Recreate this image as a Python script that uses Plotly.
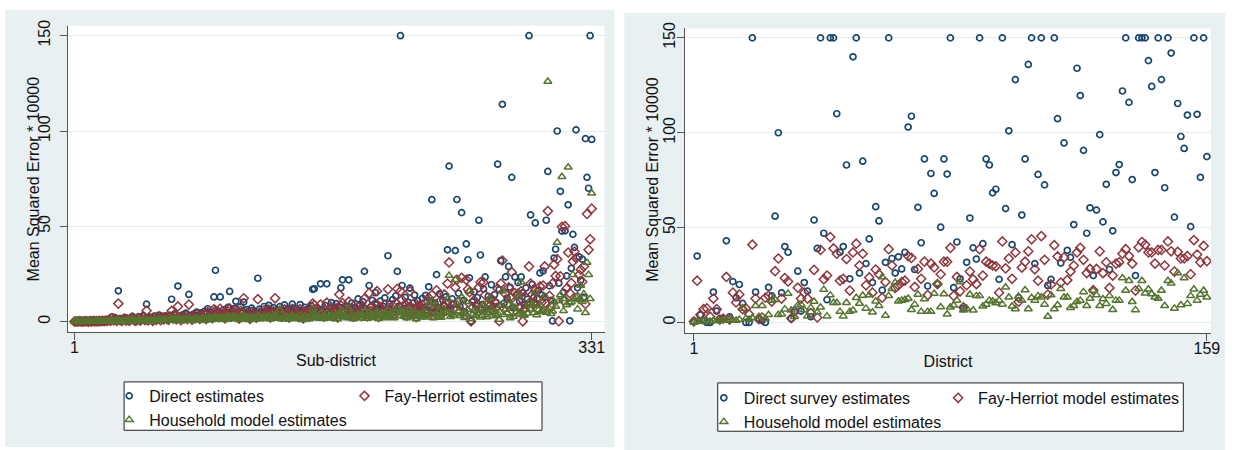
import plotly.graph_objects as go

# ---------------- data ----------------
sub_district = list(range(1, 332))
district = list(range(1, 160))

direct_sub = [
    0.2,0.1,0.3,0.2,0.1,0.3,0.2,0.4,0.2,0.3,0.5,0.3,0.2,0.4,0.6,0.3,0.5,0.4,0.7,0.5,
    0.8,0.6,1.2,0.9,2.5,1.1,2.0,0.8,16.2,1.5,0.9,1.3,2.2,1.0,1.6,0.7,1.8,2.8,1.2,0.9,
    1.4,2.6,1.1,1.9,3.2,1.5,9.2,1.2,2.4,1.8,1.0,2.9,1.6,2.2,3.5,1.3,2.7,1.9,3.1,2.3,
    1.7,3.4,11.8,2.5,4.2,2.0,18.7,3.0,1.5,3.6,2.8,4.5,2.1,14.3,3.3,1.9,4.0,2.6,5.1,3.2,
    2.4,4.6,3.0,5.5,2.2,6.8,3.7,4.9,2.9,13.0,27.0,5.8,3.4,13.0,4.4,6.2,2.7,5.0,7.5,15.9,
    3.8,5.6,6.9,10.7,4.1,2.5,7.8,5.3,10.3,3.6,6.4,4.8,2.3,7.1,5.9,4.2,3.0,22.8,6.6,5.0,
    3.9,8.0,4.6,6.3,8.6,3.3,5.8,7.4,2.8,6.1,4.5,7.9,3.7,5.4,8.8,4.0,6.7,3.1,5.7,9.2,
    7.0,4.3,6.0,3.5,9.0,5.2,2.6,7.6,4.9,6.5,3.8,8.3,17.0,17.3,5.5,7.2,4.4,19.9,6.2,3.9,
    8.5,19.9,5.1,7.0,10.0,4.0,6.8,9.5,3.2,7.7,17.8,22.0,5.9,8.1,4.7,22.0,6.4,9.8,3.6,7.3,
    5.6,12.0,8.7,4.2,10.5,26.4,6.9,4.1,19.0,7.8,11.2,5.3,15.2,9.1,3.8,10.8,6.6,8.0,12.5,4.9,
    34.6,9.4,6.1,11.6,5.0,13.5,26.4,8.2,150,19.0,7.0,12.8,4.5,10.2,17.6,6.3,9.7,14.0,3.4,11.0,
    8.9,5.7,12.2,7.5,13.8,6.0,18.3,10.6,64.0,4.8,9.9,24.7,7.1,14.6,5.4,11.4,8.4,13.0,37.7,81.6,
    6.5,12.0,9.3,37.3,64.1,14.9,7.8,57.2,11.1,5.2,40.8,32.5,23.0,0.3,10.4,15.6,8.6,12.7,53.2,35.0,
    9.0,17.2,23.5,6.8,13.3,11.5,19.4,8.0,14.2,10.1,82.6,16.8,32.0,114.0,9.6,23.5,12.4,29.0,18.0,75.7,
    7.2,23.5,13.9,20.5,10.7,23.5,15.1,8.8,17.7,11.9,150,56.0,19.6,12.6,51.8,9.4,16.4,25.6,14.0,26.6,
    13.0,53.2,78.8,18.8,11.2,0.4,33.4,38.0,100.0,20.2,68.4,47.5,15.4,47.7,24.0,61.3,0.5,28.0,45.8,39.0,
    100.6,17.8,34.0,21.8,32.8,12.8,96.0,75.7,70.0,150,95.6,
]

fh_sub = [
    0.1,0.2,0.1,0.3,0.2,0.1,0.2,0.3,0.2,0.1,0.3,0.2,0.4,0.2,0.3,0.2,0.4,0.3,0.5,0.3,
    0.6,0.4,1.0,0.5,1.8,0.7,1.5,0.4,9.5,1.0,0.5,0.8,1.6,0.6,1.1,0.4,1.3,2.0,0.8,0.5,
    0.9,1.9,0.6,1.3,2.4,0.9,5.8,0.7,1.7,1.2,0.5,2.1,1.0,1.5,2.6,0.8,1.9,1.2,2.3,1.5,
    1.0,2.5,5.7,1.6,3.1,1.2,8.0,2.1,0.8,2.6,1.8,3.3,1.3,9.0,2.2,1.1,2.9,1.7,3.8,2.1,
    1.5,3.3,2.0,4.0,1.4,5.0,2.5,3.6,1.9,6.5,6.0,4.2,2.3,6.8,3.1,4.5,1.7,3.6,5.5,7.0,
    2.6,4.1,5.0,6.2,2.8,1.6,5.7,3.8,12.3,2.4,4.7,3.4,1.5,5.2,4.2,2.9,2.0,11.8,4.8,3.5,
    2.7,5.9,3.2,4.6,6.3,2.2,4.1,5.4,12.3,4.4,3.1,5.8,2.5,3.9,6.5,2.7,4.9,2.1,4.1,6.8,
    5.1,3.0,4.4,2.4,6.6,3.7,1.7,5.6,3.4,4.7,2.6,6.1,9.5,8.7,3.9,5.3,3.0,9.0,4.5,2.7,
    6.2,10.0,3.6,5.1,7.0,2.8,4.9,7.0,2.2,14.3,8.5,9.8,4.2,5.9,3.3,10.5,4.6,7.2,2.5,5.3,
    4.0,7.8,6.3,2.9,7.6,12.0,5.0,2.8,15.0,5.6,8.1,3.7,9.5,16.0,2.6,7.8,4.7,5.8,9.0,3.4,
    17.0,6.8,4.3,8.4,3.5,9.8,17.3,5.9,16.0,11.5,5.0,9.2,3.1,7.4,16.0,4.5,7.0,10.1,2.4,8.0,
    6.4,4.0,8.8,5.4,10.0,4.2,12.5,7.7,14.0,3.4,7.2,16.5,5.1,10.6,3.8,8.3,14.3,9.4,20.0,31.1,
    4.7,8.7,6.7,18.0,22.0,10.8,5.6,23.0,8.0,3.7,22.0,17.0,15.5,0.2,7.5,11.3,6.2,9.2,18.0,20.7,
    6.5,20.7,14.0,4.9,9.6,8.3,12.0,5.8,10.3,7.3,17.3,0.3,20.0,32.1,7.0,14.5,9.0,18.0,13.0,26.0,
    5.2,15.0,10.0,14.8,7.7,16.0,0.2,6.4,12.8,8.6,29.0,20.0,14.2,9.1,16.5,6.8,11.9,18.5,10.1,19.0,
    29.0,9.4,58.0,13.6,8.1,20.0,30.0,24.0,32.8,0.3,23.8,49.8,11.1,50.1,17.4,36.3,15.0,20.3,31.6,36.8,
    33.4,12.9,24.6,27.3,21.0,29.0,9.3,56.5,37.7,43.2,59.3,
]

hh_sub = [
    0.0,0.1,0.0,0.1,0.1,0.0,0.1,0.1,0.0,0.1,0.1,0.2,0.1,0.1,0.2,0.1,0.2,0.1,0.2,0.2,
    0.3,0.2,0.4,0.3,0.6,0.3,0.5,0.2,0.8,0.4,0.3,0.5,0.7,0.3,0.6,0.2,0.6,0.9,0.5,0.3,
    0.6,0.8,0.4,0.7,1.0,0.5,1.2,0.4,0.8,0.6,0.3,1.0,0.6,0.8,1.2,0.5,0.9,0.7,1.1,0.8,
    0.6,1.2,1.5,0.9,1.4,0.7,1.8,1.1,0.5,1.3,1.0,1.6,0.8,1.9,1.2,0.7,1.5,1.0,1.8,1.2,
    0.9,1.7,1.2,2.0,0.8,2.3,1.4,1.8,1.1,2.2,2.4,2.0,1.3,2.1,1.6,2.2,1.0,1.8,2.5,2.6,
    1.5,2.1,2.4,2.8,1.6,1.0,2.6,1.9,3.0,1.4,2.3,1.8,1.0,2.5,2.1,1.6,1.2,3.2,2.4,1.9,
    1.6,2.8,1.8,2.3,3.0,1.3,2.1,2.7,3.4,2.2,1.7,6.0,1.5,2.0,3.1,1.5,2.5,1.3,2.1,3.3,
    2.6,1.7,2.3,1.4,3.2,2.0,1.1,2.8,1.9,2.4,1.5,3.0,6.5,4.0,2.1,2.7,1.7,4.2,2.4,1.6,
    3.0,4.5,2.0,2.6,3.5,1.7,2.5,3.4,1.4,4.6,3.9,5.5,2.3,3.0,1.9,6.8,2.5,3.6,1.5,2.8,
    2.2,3.8,3.2,1.8,3.7,5.2,2.7,1.7,4.8,3.0,4.0,2.1,4.3,5.1,1.6,3.9,2.6,3.1,4.4,2.0,
    6.0,3.5,2.4,4.2,2.0,4.8,7.0,3.1,5.5,5.0,2.8,4.6,1.9,3.8,6.5,2.5,3.6,5.0,1.5,4.0,
    3.3,2.3,4.4,2.9,5.0,2.4,9.0,3.9,11.0,2.0,3.7,8.5,2.8,5.4,2.2,4.2,6.5,4.8,12.0,24.2,
    2.6,4.4,3.4,22.0,9.5,5.5,3.1,13.0,4.1,2.1,10.5,6.4,16.0,1.5,3.8,5.8,3.2,4.7,7.0,2.4,
    3.3,9.0,6.0,2.5,4.9,12.0,6.3,3.0,5.2,3.7,4.5,1.2,8.5,16.0,3.6,6.4,4.6,11.0,2.0,8.0,
    2.8,7.5,5.1,13.5,4.0,20.7,3.5,3.3,6.5,4.4,10.0,6.5,9.0,4.7,15.5,3.5,6.1,8.8,5.2,5.6,
    13.3,4.8,126.0,6.9,4.2,5.5,10.5,8.0,41.5,11.0,14.0,76.0,5.7,12.0,8.8,81.0,9.8,10.4,24.7,12.0,
    13.0,6.6,11.5,19.0,10.5,14.5,4.7,31.1,24.7,12.0,67.4,
]

direct_dist = [
    0.5,35,4,1,0,0,16,6,2,2,43,3,21.5,13,20,10,0,0,150,16,
    2,1,0,18.5,14,56,100,15.6,40,37,2,5.5,27,6,21,16.5,3,54,39,150,
    47,12,150,150,110,37,40,83,23,140,150,26,85,31,44,21,61,53.5,17,31.7,
    150,33.7,26,34.6,28.2,36.9,103,108.7,27.9,60.7,42,86.2,19.2,78.5,68,20.2,50.2,86.2,78.2,150,
    18.3,42.4,23,7.4,31.7,55,39.3,33.4,150,41.5,86.2,83,68.3,70.2,22.7,150,60,101,41,128,
    13,56.6,86.2,136,150,31,78,150,72.5,19.5,22.7,150,107.4,31.3,94.6,38,34.3,51.6,134,119.6,
    90.7,47,60.4,24.7,59.2,99,53,72.8,27.9,48.3,79,83.2,122,150,116,75.3,24.7,150,150,150,
    138,124.4,79,150,128,71,150,142,55.5,115.4,98,91.7,109.3,50.5,150,109.7,76.5,150,87.4,
]

fh_dist = [
    0.5,22,4,7,7.4,3,12.6,7,1.5,2,24,1.5,15.7,10.5,14.7,7,7.4,4.3,41,12.6,
    1.7,2.6,13,14,11,27,33.7,12.6,23.4,21.6,2.2,6,18.3,12.6,15.7,12.6,5,27.7,2.6,38.2,
    22.7,24.7,45,39,36.2,22,23,33.4,16.8,36.9,41.5,30,36.2,19.6,23.7,15.7,27.9,25.4,13,21.3,
    38.6,30,18.2,19.6,21.3,22,35,34,18.7,28.2,23,32,14.4,31,29,20.2,25.4,32,32,39.3,
    14,24,16.4,8,19.6,26.8,22.7,20.2,38.6,24.7,32,31,30,29.6,15.7,42.7,28.5,33.7,23,36.9,
    10.9,28.9,32,37.5,43.8,28,22,45.5,33,14.7,20,40.7,34.8,21,34.3,22.3,26.8,30,36.9,39.3,
    33,26,28.2,17,28.2,37.5,26,31.7,18.2,24.7,31,31.7,36.2,38.6,35,31,16.8,39.6,42.4,41,
    36.9,36.9,31,38.2,38.2,30,42.7,37.5,26.8,37.2,33.7,33.7,35,25.4,43.4,35.8,31.7,40.3,32.3,
]

hh_dist = [
    0,0.5,0.3,0.5,0.8,0.5,1,0.8,1,1,1.2,1,1.2,1,1.5,7.4,2,1.5,2.5,8.8,
    3,8.8,2,4,11.6,12,4,4.3,7,15.2,6.4,3,9,9.5,6.6,3.3,7.8,11,5.4,8,
    17.3,3.3,14.4,10.4,10.4,5.7,3.3,10.4,5.7,6.4,13,10,14.2,7.4,14.4,5.4,11.2,8.8,23.9,3.6,
    14,17.8,21,11.2,11.6,12,12.6,6.7,9.5,14.7,5.7,12.3,5.7,5.7,15.2,20.4,8.1,15,4.3,8,
    9,11.6,21.3,6.4,7.4,14.7,6.4,14,14,8.5,9.5,11.6,11.2,10.2,11.6,9.5,18.5,13.3,8.5,7.1,
    13.7,11.6,17.1,7.1,13,11.6,14,13.3,9.5,3.1,14.4,7.1,9.2,17.8,13.3,13.3,7.8,8.8,10.9,11.6,
    16.1,8.8,12.6,16.8,14.4,8.8,12.3,9.9,14,6.7,11.6,11.6,23.4,16.8,22,10.9,6.6,17.8,22,15.4,
    17.5,15,13.3,12.6,16.8,8.8,22,20.6,7.4,26,9.2,23.4,9.9,14,17.5,11.6,14.7,16.8,13.3,
]

y_ticks = [0, 50, 100, 150]
left_x_ticks = [1, 331]
right_x_ticks = [1, 159]
y_title = "Mean Squared Error * 10000"

# ---------------- style ----------------
W, H = 1235, 450
NAVY, MAROON, GREEN = "#1a476f", "#90353b", "#55752f"
PANEL = "#e9f0f2"
GRID = "#e4ecef"
AXIS = "#555555"
TXT = "#111111"
FONT = "Liberation Sans, Arial, sans-serif"
FS = 16

def fx(p):
    return p / W

def fy(p):
    return 1 - p / H

circle = dict(symbol="circle-open", size=6, color=NAVY, line=dict(width=1.7, color=NAVY))
diamond = dict(symbol="diamond-open", size=7, color=MAROON, line=dict(width=1.5, color=MAROON))
triangle = dict(symbol="triangle-up-open", size=7, color=GREEN, line=dict(width=1.5, color=GREEN))

fig = go.Figure()
# left panel
fig.add_trace(go.Scatter(x=sub_district, y=direct_sub, mode="markers", marker=circle,
                         name="Direct estimates", xaxis="x", yaxis="y",
                         legend="legend", legendgroup="a"))
fig.add_trace(go.Scatter(x=sub_district, y=fh_sub, mode="markers", marker=diamond,
                         name="Fay-Herriot estimates", xaxis="x", yaxis="y",
                         legend="legend2", legendgroup="b"))
fig.add_trace(go.Scatter(x=sub_district, y=hh_sub, mode="markers", marker=triangle,
                         name="Household model estimates", xaxis="x", yaxis="y",
                         legend="legend", legendgroup="c"))
# right panel
fig.add_trace(go.Scatter(x=district, y=direct_dist, mode="markers", marker=circle,
                         name="Direct survey estimates", xaxis="x2", yaxis="y2",
                         legend="legend3", legendgroup="d"))
fig.add_trace(go.Scatter(x=district, y=fh_dist, mode="markers", marker=diamond,
                         name="Fay-Herriot model estimates", xaxis="x2", yaxis="y2",
                         legend="legend4", legendgroup="e"))
fig.add_trace(go.Scatter(x=district, y=hh_dist, mode="markers", marker=triangle,
                         name="Household model estimates", xaxis="x2", yaxis="y2",
                         legend="legend3", legendgroup="f"))

tickfont = dict(family=FONT, size=FS, color=TXT)

def xax(domain, rng, ticks, title, anchor):
    return dict(domain=domain, range=rng, tickvals=ticks, ticks="outside", ticklen=7,
                tickcolor=AXIS, tickwidth=1, showline=True, linecolor=AXIS, linewidth=1,
                showgrid=False, zeroline=False, tickfont=tickfont, anchor=anchor,
                ticklabelstandoff=-6,
                title=dict(text=title, font=dict(family=FONT, size=FS, color=TXT), standoff=0))

def yax(domain, rng, anchor, standoff):
    return dict(domain=domain, range=rng, tickvals=y_ticks, tickangle=-90, ticks="outside",
                ticklen=7, tickcolor=AXIS, tickwidth=1, showline=True, linecolor=AXIS,
                linewidth=1, showgrid=True, gridcolor=GRID, gridwidth=1, zeroline=False,
                tickfont=tickfont, anchor=anchor, ticklabelstandoff=standoff)

leg_common = dict(orientation="v", xanchor="left", yanchor="top", bgcolor="rgba(0,0,0,0)",
                  borderwidth=0, font=dict(family=FONT, size=FS, color=TXT),
                  tracegroupgap=0, itemsizing="trace")

fig.update_layout(
    width=W, height=H, margin=dict(l=0, r=0, t=0, b=0),
    paper_bgcolor="white", plot_bgcolor="white",
    font=dict(family=FONT),
    showlegend=True,
    xaxis=xax([fx(68), fx(609)], [-3.43, 339.2], left_x_ticks, "Sub-district", "y"),
    yaxis=yax([fy(330), fy(20)], [-5.17, 155.2], "x", 3),
    xaxis2=xax([fx(690), fx(1220)], [-1.75, 160.3], right_x_ticks, "District", "y2"),
    yaxis2=yax([fy(331), fy(22.7)], [-5.36, 155.0], "x2", -4),
    legend=dict(x=fx(110), y=fy(378), **leg_common),
    legend2=dict(x=fx(347), y=fy(378), **leg_common),
    legend3=dict(x=fx(709), y=fy(380), **leg_common),
    legend4=dict(x=fx(945), y=fy(380), **leg_common),
    shapes=[
        dict(type="rect", xref="paper", yref="paper", x0=fx(5), x1=fx(619), y0=fy(447), y1=fy(4),
             fillcolor=PANEL, line=dict(width=0), layer="below"),
        dict(type="rect", xref="paper", yref="paper", x0=fx(629), x1=fx(1234), y0=fy(450), y1=fy(7),
             fillcolor=PANEL, line=dict(width=0), layer="below"),
        dict(type="rect", xref="x domain", yref="y domain", x0=0, x1=1, y0=0, y1=1,
             fillcolor="white", line=dict(width=0), layer="below"),
        dict(type="rect", xref="x2 domain", yref="y2 domain", x0=0, x1=1, y0=0, y1=1,
             fillcolor="white", line=dict(width=0), layer="below"),
        dict(type="rect", xref="paper", yref="paper", x0=fx(125), x1=fx(546), y0=fy(430), y1=fy(381),
             fillcolor="white", line=dict(width=1, color="#222222"), layer="below"),
        dict(type="rect", xref="paper", yref="paper", x0=fx(723), x1=fx(1192), y0=fy(431), y1=fy(382),
             fillcolor="white", line=dict(width=1, color="#222222"), layer="below"),
    ],
    annotations=[
        dict(text=y_title, xref="paper", yref="paper", x=fx(34), y=fy(175), textangle=-90,
             showarrow=False, xanchor="center", yanchor="middle",
             font=dict(family=FONT, size=FS, color=TXT)),
        dict(text=y_title, xref="paper", yref="paper", x=fx(657), y=fy(176), textangle=-90,
             showarrow=False, xanchor="center", yanchor="middle",
             font=dict(family=FONT, size=FS, color=TXT)),
    ],
)

fig.write_html("out.html")
